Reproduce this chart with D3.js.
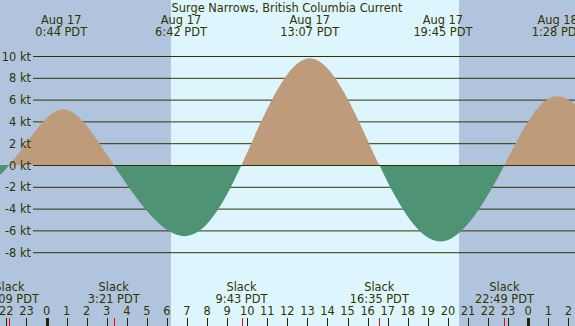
<!DOCTYPE html>
<meta charset="utf-8">
<script src="https://d3js.org/d3.v7.min.js"></script>
<style>
  body { margin: 0; }
  svg { display: block; font-family: "DejaVu Sans", sans-serif; }
</style>
<div id="chart"></div>
<script>
// hours are counted from Aug 17 0:00 PDT
var title = "Surge Narrows, British Columbia Current";

// slack water and max current events
var eventHours  = [-5.2, -1.85, 0.733, 3.35, 6.7, 9.717, 13.117, 16.583, 19.75, 22.817, 25.467, 28.6];
var eventValues = [-5.0, 0, 5.1, 0, -6.5, 0, 9.8, 0, -7.0, 0, 6.3, 0];

// labels over the max currents (top) and slacks (bottom)
var maxHours  = [0.733, 6.7, 13.117, 19.75, 25.467];
var maxDates  = ["Aug 17", "Aug 17", "Aug 17", "Aug 17", "Aug 18"];
var maxTimes  = ["0:44 PDT", "6:42 PDT", "13:07 PDT", "19:45 PDT", "1:28 PDT"];
var slackHours = [-1.85, 3.35, 9.717, 16.583, 22.817];
var slackTimes = ["22:09 PDT", "3:21 PDT", "9:43 PDT", "16:35 PDT", "22:49 PDT"];

// daylight
var sunrise = 6.2, sunset = 20.55;

var yTicks = [10, 8, 6, 4, 2, 0, -2, -4, -6, -8];
var hourTicks = d3.range(-2, 27);

var width = 575, height = 326;
var fs = 11.4;

var x = d3.scaleLinear().domain([0, 24]).range([46.5, 528.2]);
var y = d3.scaleLinear().domain([0, 10]).range([165, 56]);

var svg = d3.select("#chart").append("svg")
    .attr("width", width)
    .attr("height", height);

// night / day background
svg.append("rect").attr("width", width).attr("height", height).attr("fill", "#b0c4de");
svg.append("rect")
    .attr("x", x(sunrise)).attr("y", 0)
    .attr("width", x(sunset) - x(sunrise)).attr("height", height)
    .attr("fill", "#ddf6fe");

// grid lines
svg.selectAll(".grid")
  .data(yTicks)
  .enter().append("line")
    .attr("x1", 33).attr("x2", width)
    .attr("y1", function(d) { return y(d) + 0.5 })
    .attr("y2", function(d) { return y(d) + 0.5 })
    .attr("stroke", "#333300")
    .attr("stroke-width", 1);

// current curve, filled to 0 kt
var pts = eventHours.map(function(h, i) { return [h, eventValues[i]] });
var area = d3.area()
    .x(function(d) { return x(d[0]) })
    .y0(y(0))
    .y1(function(d) { return y(d[1]) })
    .curve(d3.curveNatural);

var defs = svg.append("defs");
defs.append("clipPath").attr("id", "flood")
  .append("rect").attr("x", 0).attr("y", 0).attr("width", width).attr("height", y(0));
defs.append("clipPath").attr("id", "ebb")
  .append("rect").attr("x", 0).attr("y", y(0)).attr("width", width).attr("height", height);

svg.append("path").datum(pts)
    .attr("d", area)
    .attr("fill", "#bd9b7b")
    .attr("clip-path", "url(#flood)");
svg.append("path").datum(pts)
    .attr("d", area)
    .attr("fill", "#4e9373")
    .attr("clip-path", "url(#ebb)");

// zero line on top
svg.append("line")
    .attr("x1", 33).attr("x2", width)
    .attr("y1", y(0) + 0.5).attr("y2", y(0) + 0.5)
    .attr("stroke", "#333300");

var txt = "#333300";

// y labels
svg.selectAll(".ylab")
  .data(yTicks)
  .enter().append("text")
    .attr("x", 31)
    .attr("y", function(d) { return y(d) + 4.5 })
    .attr("text-anchor", "end")
    .attr("font-size", fs)
    .attr("fill", txt)
    .text(function(d) { return d + " kt" });

// title
svg.append("text")
    .attr("x", 287).attr("y", 12)
    .attr("text-anchor", "middle")
    .attr("font-size", fs)
    .attr("fill", txt)
    .text(title);

// max current labels
maxHours.forEach(function(h, i) {
  svg.append("text").attr("x", x(h)).attr("y", 24)
    .attr("text-anchor", "middle").attr("font-size", fs).attr("fill", txt)
    .text(maxDates[i]);
  svg.append("text").attr("x", x(h)).attr("y", 36)
    .attr("text-anchor", "middle").attr("font-size", fs).attr("fill", txt)
    .text(maxTimes[i]);
});

// slack labels
slackHours.forEach(function(h, i) {
  svg.append("text").attr("x", x(h)).attr("y", 291)
    .attr("text-anchor", "middle").attr("font-size", fs).attr("fill", txt)
    .text("Slack");
  svg.append("text").attr("x", x(h)).attr("y", 303)
    .attr("text-anchor", "middle").attr("font-size", fs).attr("fill", txt)
    .text(slackTimes[i]);
});

// hour labels and ticks
svg.selectAll(".hlab")
  .data(hourTicks)
  .enter().append("text")
    .attr("x", function(d) { return x(d) })
    .attr("y", 315)
    .attr("text-anchor", "middle")
    .attr("font-size", fs)
    .attr("fill", txt)
    .text(function(d) { return (d + 24) % 24 });

svg.selectAll(".htick")
  .data(hourTicks)
  .enter().append("line")
    .attr("x1", function(d) { return Math.round(x(d)) + 0.5 })
    .attr("x2", function(d) { return Math.round(x(d)) + 0.5 })
    .attr("y1", 318).attr("y2", height)
    .attr("stroke", "#222200")
    .attr("stroke-width", function(d) { return d % 24 == 0 ? 3 : 1 });

svg.selectAll(".stick")
  .data(slackHours)
  .enter().append("line")
    .attr("x1", function(d) { return Math.round(x(d)) + 0.5 })
    .attr("x2", function(d) { return Math.round(x(d)) + 0.5 })
    .attr("y1", 318).attr("y2", height)
    .attr("stroke", "#ff0000");
</script>
